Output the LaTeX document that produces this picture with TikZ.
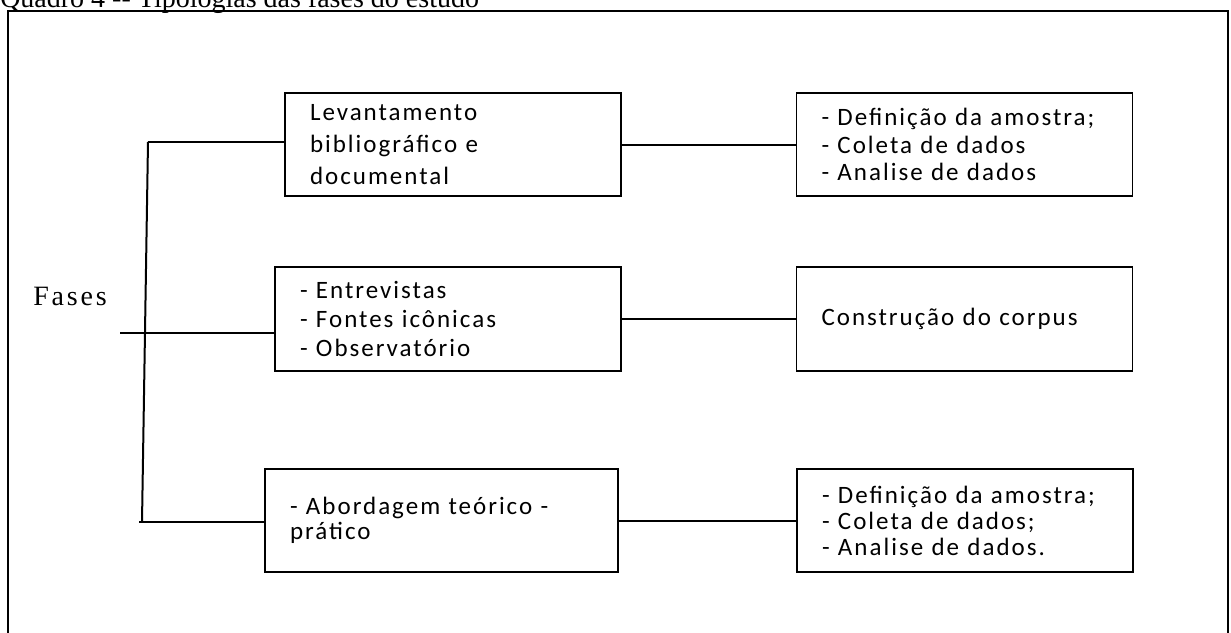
\documentclass[tikz,border=0pt]{standalone}
\usepackage{fontspec}
\setmainfont{Carlito}
\newfontfamily\capfont{Liberation Serif}
\newfontfamily\boxfont[LetterSpace=8]{Carlito}
\newfontfamily\fasesfont[LetterSpace=10]{Liberation Serif}
\begin{document}
\begin{tikzpicture}[x=0.75pt,y=-0.75pt,
  stepbox/.style={draw, line width=1.4pt, align=left, inner xsep=18.75pt, inner ysep=0pt,
    font=\boxfont\fontsize{18.75pt}{20.6pt}\selectfont},
  conn/.style={line width=1.5pt}]
\useasboundingbox (0,0) rectangle (1231,632);
\clip (0,0) rectangle (1231,632);
\fill[white] (0,0) rectangle (1231,632);
% caption (cut at top)
\node[anchor=base west, inner sep=0pt, font=\capfont\fontsize{21pt}{24pt}\selectfont] (cap) at (0,7) {Quadro 4 -- Tipologias das fases do estudo};
% frame
\draw[line width=1.8pt] (8,660) -- (8,11) -- (1228,11) -- (1228,660);
% Fases
\node[anchor=base west, inner sep=0pt, font=\fasesfont\fontsize{21pt}{24pt}\selectfont] (fases) at (33,305) {Fases};
% boxes
\node[stepbox, text width=214.5pt, minimum height=77.25pt, font=\boxfont\fontsize{18.75pt}{24pt}\selectfont] (b1) at (453,144.5) {Levantamento\\bibliográfico e\\documental};
\node[stepbox, text width=214.5pt, minimum height=77.25pt] (b2) at (964.5,144.5) {- Definição da amostra;\\- Coleta de dados\\- Analise de dados};
\node[stepbox, text width=222pt, minimum height=78pt, font=\boxfont\fontsize{18.75pt}{21.5pt}\selectfont] (b3) at (448,319) {- Entrevistas\\- Fontes icônicas\\- Observatório};
\node[stepbox, text width=214.5pt, minimum height=78pt] (b4) at (964.5,319) {Construção do corpus};
\node[stepbox, text width=227.25pt, minimum height=77.25pt, font=\boxfont\fontsize{18.75pt}{19pt}\selectfont] (b5) at (441.5,520.5) {- Abordagem teórico -\\prático};
\node[stepbox, text width=214.5pt, minimum height=77.25pt, font=\boxfont\fontsize{18.75pt}{19.5pt}\selectfont] (b6) at (965,520.5) {- Definição da amostra;\\- Coleta de dados;\\- Analise de dados.};
% connectors
\coordinate (t1) at (148,142);
\coordinate (tb) at (142,522);
\coordinate (f0) at (120,333);
\coordinate (bb) at (139,522);
\draw[conn] (t1) -- (tb);
\draw[conn] (t1) -- (b1.west |- t1);
\draw[conn] (f0) -- (b3.west |- f0);
\draw[conn] (bb) -- (b5.west |- bb);
\draw[conn] (b1.east) -- (b2.west);
\draw[conn] (b3.east) -- (b4.west);
\draw[conn] (b5.east) -- (b6.west);
\end{tikzpicture}
\end{document}
